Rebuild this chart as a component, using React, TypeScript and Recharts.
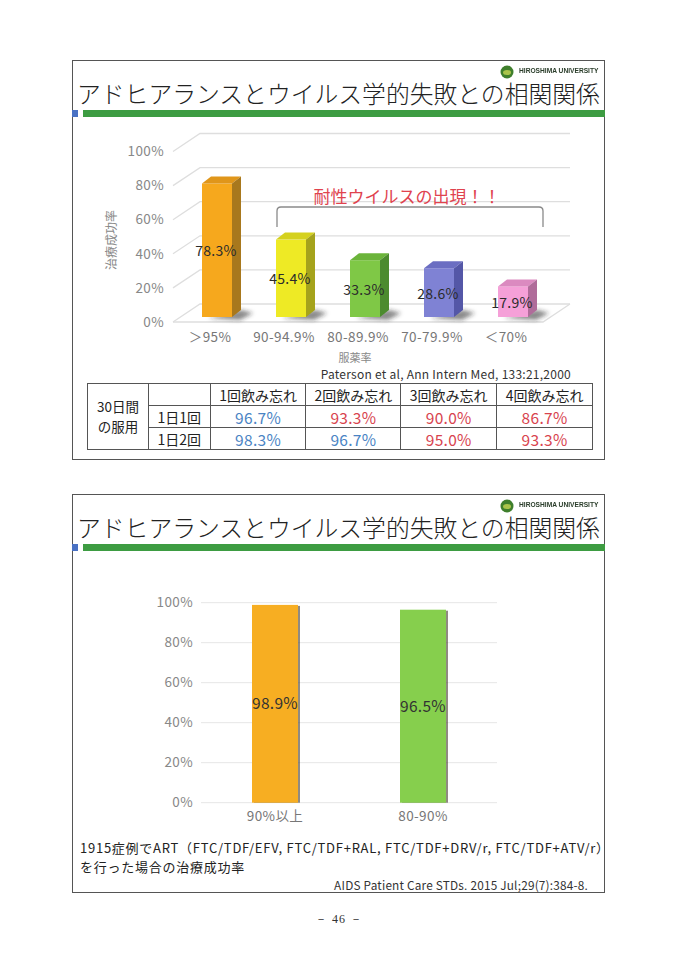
import React from 'react'
import { BarChart, Bar, XAxis, YAxis, CartesianGrid, LabelList, Cell } from 'recharts'

// slide 1: Paterson 2000
const adherenceCats = ['＞95%', '90-94.9%', '80-89.9%', '70-79.9%', '＜70%']
const successRates = [78.3, 45.4, 33.3, 28.6, 17.9]
const pctTicks = [0, 20, 40, 60, 80, 100]

const missedCols = ['1回飲み忘れ', '2回飲み忘れ', '3回飲み忘れ', '4回飲み忘れ']
const doseRows = ['1日1回', '1日2回']
const onceDaily = [96.7, 93.3, 90.0, 86.7]
const twiceDaily = [98.3, 96.7, 95.0, 93.3]

// slide 2: AIDS Patient Care STDs 2015
const recentCats = ['90%以上', '80-90%']
const recentRates = [98.9, 96.5]

const FONT = '"Noto Sans CJK JP", "Noto Sans", sans-serif'
const TITLE = 'アドヒアランスとウイルス学的失敗との相関関係'

const faces = [
  { front: '#f6a81d', top: '#e0961a', side: '#a8781d' },
  { front: '#eeea25', top: '#d5d11e', side: '#a5a31c' },
  { front: '#7fc846', top: '#6bb43a', side: '#4c8b2e' },
  { front: '#7f82d4', top: '#6b6ec2', side: '#5457a7' },
  { front: '#f5a0d8', top: '#db8ac0', side: '#b06c9a' },
]
const recentColors = ['#f7ae22', '#86cf4d']

// bars sit a bit inside the floor, back wall sits further
const SHIFT_X = 7
const SHIFT_Y = -5
const BAR_DX = 9
const BAR_DY = -7
const WALL_DX = 27
const WALL_DY = -18

const paterson = adherenceCats.map((c, i) => ({ cat: c, rate: successRates[i] }))
const recent = recentCats.map((c, i) => ({ cat: c, rate: recentRates[i] }))

function Bar3D(p: any) {
  const { x, y, width: w, height: h, index } = p
  const c = faces[index % faces.length]
  const fx = x + SHIFT_X
  const fy = y + SHIFT_Y
  const by = fy + h
  return (
    <g>
      <polygon
        points={`${fx + 6},${by + 1} ${fx + w + BAR_DX},${by + BAR_DY} ${fx + w + BAR_DX + 12},${by + BAR_DY + 3} ${fx + w + 8},${by + 3}`}
        fill="rgba(40,40,40,0.55)"
        filter="url(#soft)"
      />
      <rect x={fx} y={fy} width={w} height={h} fill={c.front} />
      <polygon points={`${fx},${fy} ${fx + BAR_DX},${fy + BAR_DY} ${fx + w + BAR_DX},${fy + BAR_DY} ${fx + w},${fy}`} fill={c.top} />
      <polygon points={`${fx + w},${fy} ${fx + w + BAR_DX},${fy + BAR_DY} ${fx + w + BAR_DX},${by + BAR_DY} ${fx + w},${by}`} fill={c.side} />
    </g>
  )
}

function SlantGrid(p: any) {
  const { x1, y1, x2, y, height } = p
  const floor = Math.abs(y1 - (y + height)) < 1
  return (
    <g key={p.key}>
      <polyline
        points={`${x1},${y1} ${x1 + WALL_DX},${y1 + WALL_DY} ${x2 + WALL_DX},${y1 + WALL_DY}`}
        fill="none" stroke="#dedede" strokeWidth={1.3}
      />
      {floor && (
        <polyline points={`${x1},${y1} ${x2},${y1} ${x2 + WALL_DX},${y1 + WALL_DY}`} fill="none" stroke="#dedede" strokeWidth={1.3} />
      )}
    </g>
  )
}

function ShiftedLabel(p: any) {
  const vb = p.viewBox || p
  return (
    <text
      x={vb.x + vb.width / 2 + SHIFT_X - 1}
      y={vb.y + vb.height / 2 + SHIFT_Y}
      textAnchor="middle" dominantBaseline="central"
      fill="#2b2b2b" fontSize={14} fontFamily={FONT} letterSpacing={0.3}
    >
      {`${Number(p.value).toFixed(1)}%`}
    </text>
  )
}

function FlatBar(p: any) {
  const { x, y, width, height, fill } = p
  return (
    <g>
      <rect x={x + 2} y={y + 1} width={width} height={height - 1} fill="rgba(70,60,45,0.6)" />
      <rect x={x} y={y} width={width} height={height} fill={fill} />
    </g>
  )
}

function Header({ top }: { top: number }) {
  return (
    <>
      <svg style={{ position: 'absolute', left: 498, top: top + 4, width: 20, height: 16 }}>
        <circle cx={9} cy={8} r={6.5} fill="#3f7f2c" />
        <ellipse cx={9} cy={8.5} rx={4} ry={2.5} fill="#a9c44a" />
      </svg>
      <div style={{
        position: 'absolute', left: 519, top: top + 6, fontFamily: '"Liberation Sans Narrow", "Liberation Sans", sans-serif',
        fontWeight: 700, fontSize: 8, lineHeight: '9px', color: '#2a3d2a', whiteSpace: 'nowrap',
        transform: 'scaleX(0.83)', transformOrigin: 'left center',
      }}>HIROSHIMA UNIVERSITY</div>
      <div style={{
        position: 'absolute', left: 77, top: top + 19, fontFamily: FONT, fontWeight: 300, fontSize: 23.8,
        lineHeight: '28px', color: '#222', whiteSpace: 'nowrap',
      }}>{TITLE}</div>
      <div style={{ position: 'absolute', left: 72, top: top + 50, width: 6, height: 7, background: '#4a72c4' }} />
      <div style={{ position: 'absolute', left: 83, top: top + 50, width: 522, height: 7, background: '#3d9c42' }} />
    </>
  )
}

const slideBox: React.CSSProperties = {
  position: 'absolute', left: 72, width: 533, border: '1.5px solid #555', boxSizing: 'border-box',
}

const cell: React.CSSProperties = {
  border: '1px solid #555', textAlign: 'center', padding: 0, height: 21, lineHeight: '20px',
}

function rateColor(v: number) {
  return v > 95 ? '#4a84c4' : '#d8434e'
}

const tickStyle = { fill: '#888', fontSize: 13.5, fontFamily: FONT, letterSpacing: 0.4 }

const noteStyle: React.CSSProperties = {
  position: 'absolute', left: 80, fontSize: 13, lineHeight: '16px', letterSpacing: 0.75, color: '#222', whiteSpace: 'nowrap',
}

export default function App() {
  return (
    <div style={{ position: 'absolute', left: 0, top: 0, width: 679, height: 960, background: '#fff', overflow: 'hidden', fontFamily: FONT }}>
      {/* slide 1 */}
      <div style={{ ...slideBox, top: 60, height: 400 }} />
      <Header top={60} />

      <div style={{ position: 'absolute', left: 60, top: 120 }}>
        <BarChart width={530} height={250} data={paterson} margin={{ top: 31.5, right: 47, bottom: 8, left: 73 }}>
          <defs>
            <filter id="soft" x="-50%" y="-50%" width="200%" height="200%">
              <feGaussianBlur stdDeviation={2} />
            </filter>
          </defs>
          <CartesianGrid vertical={false} horizontal={(p: any) => <SlantGrid {...p} />} />
          <XAxis
            dataKey="cat" axisLine={false} tickLine={false} tickSize={0} tickMargin={10} height={40}
            tick={{ ...tickStyle, fill: '#777' }} interval={0}
          />
          <YAxis
            domain={[0, 100]} ticks={pctTicks} width={40} axisLine={false} tickLine={false} tickSize={0} tickMargin={9}
            tickFormatter={(v: number) => `${v}%`} tick={tickStyle}
          />
          <Bar dataKey="rate" barSize={30} isAnimationActive={false} shape={(p: any) => <Bar3D {...p} />}>
            <LabelList dataKey="rate" content={(p: any) => <ShiftedLabel {...p} />} />
          </Bar>
        </BarChart>
      </div>

      <div style={{
        position: 'absolute', left: 110, top: 240, transform: 'translate(-50%, -50%) rotate(-90deg)',
        fontSize: 12, color: '#888', whiteSpace: 'nowrap',
      }}>治療成功率</div>
      <div style={{
        position: 'absolute', left: 355, top: 356.5, transform: 'translate(-50%, -50%)', fontSize: 11, lineHeight: '13px', color: '#888',
      }}>服薬率</div>
      <div style={{
        position: 'absolute', left: 407, top: 195, transform: 'translate(-50%, -50%)', fontSize: 17, color: '#e0434e', whiteSpace: 'nowrap',
      }}>耐性ウイルスの出現！！</div>
      <svg style={{ position: 'absolute', left: 0, top: 0, width: 679, height: 460, pointerEvents: 'none' }}>
        <path d="M277,227 V211 Q277,207 281,207 H539 Q543,207 543,211 V227" fill="none" stroke="#8a8a8a" strokeWidth={1.3} />
      </svg>
      <div style={{
        position: 'absolute', right: 679 - 571, top: 366.5, fontSize: 12, lineHeight: '14px', letterSpacing: 0.25, color: '#333', whiteSpace: 'nowrap',
      }}>Paterson et al, Ann Intern Med, 133:21,2000</div>

      <table style={{
        position: 'absolute', left: 87, top: 383, width: 506, borderCollapse: 'collapse', fontFamily: FONT, color: '#222',
      }}>
        <colgroup>
          <col style={{ width: 61 }} />
          <col style={{ width: 62 }} />
          <col style={{ width: 96 }} />
          <col style={{ width: 95 }} />
          <col style={{ width: 96 }} />
          <col style={{ width: 96 }} />
        </colgroup>
        <tbody>
          <tr>
            <td rowSpan={3} style={{ ...cell, fontSize: 13.5, lineHeight: '19.6px' }}>30日間<br />の服用</td>
            <td style={cell}></td>
            {missedCols.map(c => <td key={c} style={{ ...cell, fontSize: 14 }}>{c}</td>)}
          </tr>
          {[onceDaily, twiceDaily].map((row, r) => (
            <tr key={r}>
              <td style={{ ...cell, fontSize: 14 }}>{doseRows[r]}</td>
              {row.map((v, i) => (
                <td key={i} style={{ ...cell, fontSize: 15.5, letterSpacing: 0.3, color: rateColor(v) }}>{v.toFixed(1)}%</td>
              ))}
            </tr>
          ))}
        </tbody>
      </table>

      {/* slide 2 */}
      <div style={{ ...slideBox, top: 494, height: 399 }} />
      <Header top={494} />

      <div style={{ position: 'absolute', left: 100, top: 580 }}>
        <BarChart width={440} height={260} data={recent} margin={{ top: 22.7, right: 43, bottom: 7.3, left: 61 }}>
          <CartesianGrid vertical={false} stroke="#e6e6e6" />
          <XAxis
            dataKey="cat" axisLine={false} tickLine={false} tickSize={0} tickMargin={9}
            tick={{ ...tickStyle, fill: '#777' }} height={30}
          />
          <YAxis
            domain={[0, 100]} ticks={pctTicks} width={40} axisLine={false} tickLine={false} tickSize={0} tickMargin={8}
            tickFormatter={(v: number) => `${v}%`} tick={tickStyle}
          />
          <Bar dataKey="rate" barSize={46} isAnimationActive={false} shape={(p: any) => <FlatBar {...p} />}>
            {recent.map((d, i) => <Cell key={d.cat} fill={recentColors[i]} />)}
            <LabelList
              dataKey="rate" position="center" fill="#333" fontSize={15.5} fontFamily={FONT} letterSpacing={0.3}
              formatter={(v: any) => `${Number(v).toFixed(1)}%`}
            />
          </Bar>
        </BarChart>
      </div>

      <div style={{ ...noteStyle, top: 840 }}>1915症例でART（FTC/TDF/EFV, FTC/TDF+RAL, FTC/TDF+DRV/r, FTC/TDF+ATV/r）</div>
      <div style={{ ...noteStyle, top: 859 }}>を行った場合の治療成功率</div>
      <div style={{
        position: 'absolute', right: 679 - 588, top: 877.5, fontSize: 11.8, lineHeight: '14px', letterSpacing: 0.2, color: '#333', whiteSpace: 'nowrap',
      }}>
        AIDS Patient Care STDs. 2015 Jul;29(7):384-8.
      </div>

      <div style={{
        position: 'absolute', left: 339, top: 919, transform: 'translate(-50%, -50%)', fontFamily: '"Liberation Serif", serif',
        fontSize: 12, color: '#333', whiteSpace: 'nowrap', letterSpacing: 1,
      }}>－ 46 －</div>
    </div>
  )
}
